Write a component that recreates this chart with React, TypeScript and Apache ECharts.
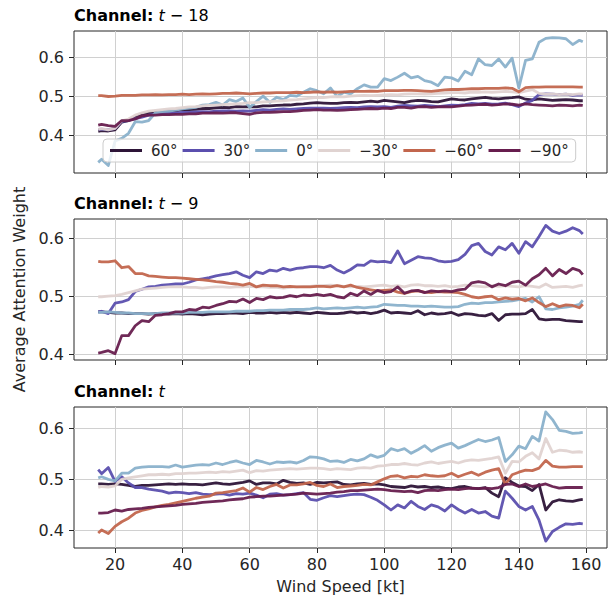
import React, { useEffect, useRef } from "react";
import * as echarts from "echarts";

// Wind speed samples [kt]
const WIND = [
  15, 16, 18, 20, 22, 24, 26, 28, 30, 32,
  34, 36, 38, 40, 42, 44, 46, 48, 50, 52,
  54, 56, 58, 60, 62, 64, 66, 68, 70, 72,
  74, 76, 78, 80, 82, 84, 86, 88, 90, 92,
  94, 96, 98, 100, 102, 104, 106, 108, 110, 112,
  114, 116, 118, 120, 122, 124, 126, 128, 130, 132,
  134, 136, 138, 140, 142, 144, 146, 148, 150, 152,
  154, 156, 158, 159,
];

const ANGLES = ["60°", "30°", "0°", "−30°", "−60°", "−90°"];
const COLORS = ["#2d1437", "#5b4fae", "#8ab1cb", "#e0d3d1", "#c2664d", "#671d4e"];

const CHANNELS = ["t−18", "t−9", "t"];
const X_TICKS = [20, 40, 60, 80, 100, 120, 140, 160];
const Y_TICKS = [0.4, 0.5, 0.6];

// ---- Channel t−18 ----
const t18_60 = [
  .410, .412, .411, .414, .434, .438, .446, .455, .457, .459,
  .461, .463, .463, .466, .466, .467, .469, .469, .471, .472,
  .471, .474, .473, .474, .473, .476, .476, .477, .478, .478,
  .480, .481, .483, .484, .483, .482, .482, .484, .485, .484,
  .486, .488, .486, .490, .488, .486, .484, .488, .490, .489,
  .487, .486, .490, .494, .492, .491, .494, .496, .498, .495,
  .494, .496, .497, .499, .493, .491, .494, .492, .490, .491,
  .492, .491, .489, .489,
];
const t18_30 = [
  .415, .416, .414, .418, .436, .438, .443, .447, .452, .455,
  .456, .457, .457, .459, .459, .460, .461, .460, .462, .463,
  .463, .462, .463, .462, .464, .466, .465, .467, .468, .467,
  .468, .469, .470, .470, .470, .469, .470, .471, .472, .471,
  .473, .474, .473, .474, .472, .475, .477, .476, .475, .477,
  .476, .474, .476, .478, .477, .479, .482, .481, .482, .480,
  .481, .483, .479, .474, .483, .490, .505, .507, .506, .505,
  .506, .503, .504, .503,
];
const t18_0 = [
  .330, .338, .322, .385, .392, .405, .435, .434, .438, .458,
  .461, .462, .465, .468, .470, .472, .478, .479, .485, .478,
  .492, .487, .496, .472, .487, .501, .485, .498, .492, .503,
  .501, .511, .520, .515, .507, .522, .500, .511, .507, .520,
  .530, .524, .524, .546, .541, .550, .560, .548, .552, .541,
  .537, .528, .550, .548, .540, .565, .556, .597, .582, .580,
  .597, .576, .599, .522, .593, .597, .640, .650, .652, .651,
  .649, .634, .645, .641,
];
const t18_n30 = [
  .415, .417, .414, .418, .437, .442, .452, .458, .462, .464,
  .466, .468, .469, .471, .473, .474, .476, .477, .478, .479,
  .480, .481, .482, .484, .484, .486, .487, .488, .489, .491,
  .492, .494, .496, .498, .497, .499, .500, .499, .501, .502,
  .503, .502, .503, .504, .505, .504, .506, .507, .507, .506,
  .507, .508, .509, .510, .510, .509, .511, .511, .512, .511,
  .512, .513, .512, .510, .514, .518, .508, .506, .507, .505,
  .506, .505, .507, .506,
];
const t18_n60 = [
  .502, .502, .500, .501, .503, .503, .503, .504, .504, .505,
  .504, .505, .505, .506, .505, .506, .507, .506, .507, .508,
  .508, .509, .508, .507, .508, .509, .509, .510, .510, .510,
  .511, .510, .511, .512, .511, .512, .511, .512, .513, .513,
  .513, .514, .513, .515, .515, .515, .516, .516, .515, .514,
  .513, .515, .517, .518, .518, .519, .520, .520, .521, .521,
  .521, .522, .521, .512, .523, .524, .524, .525, .525, .525,
  .525, .525, .524, .524,
];
const t18_n90 = [
  .426, .428, .425, .423, .438, .438, .442, .450, .452, .452,
  .453, .453, .454, .454, .455, .455, .457, .457, .458, .457,
  .458, .458, .456, .454, .458, .459, .459, .460, .461, .461,
  .462, .464, .465, .466, .465, .465, .464, .465, .466, .467,
  .468, .469, .468, .470, .469, .472, .472, .470, .473, .474,
  .472, .473, .474, .473, .475, .477, .478, .479, .480, .478,
  .479, .481, .480, .478, .481, .479, .478, .477, .476, .478,
  .477, .476, .478, .477,
];

// ---- Channel t−9 ----
const t9_60 = [
  .473, .473, .472, .471, .471, .470, .470, .470, .469, .470,
  .470, .469, .470, .469, .470, .469, .468, .469, .470, .470,
  .471, .471, .470, .472, .471, .471, .472, .471, .472, .471,
  .472, .471, .470, .472, .471, .470, .470, .471, .473, .471,
  .472, .470, .472, .476, .471, .472, .471, .470, .475, .468,
  .471, .469, .470, .472, .467, .470, .469, .467, .466, .470,
  .458, .468, .469, .469, .470, .477, .461, .459, .460, .460,
  .458, .457, .456, .456,
];
const t9_30 = [
  .473, .474, .470, .488, .490, .494, .508, .512, .516, .517,
  .519, .520, .521, .521, .524, .528, .530, .532, .535, .537,
  .539, .542, .536, .532, .542, .539, .545, .543, .548, .545,
  .548, .549, .551, .551, .549, .553, .545, .540, .546, .554,
  .553, .561, .559, .560, .558, .578, .556, .562, .568, .566,
  .565, .561, .559, .560, .563, .572, .587, .591, .577, .571,
  .585, .580, .591, .574, .594, .585, .603, .622, .612, .608,
  .612, .618, .613, .607,
];
const t9_0 = [
  .472, .472, .473, .472, .471, .471, .470, .470, .470, .470,
  .471, .471, .471, .471, .472, .472, .472, .473, .473, .473,
  .473, .474, .474, .474, .475, .475, .476, .476, .476, .477,
  .477, .477, .478, .480, .478, .479, .480, .479, .480, .481,
  .480, .481, .482, .486, .485, .484, .484, .483, .483, .482,
  .483, .482, .481, .481, .482, .486, .488, .487, .489, .489,
  .490, .491, .492, .494, .496, .490, .499, .478, .477, .480,
  .481, .483, .486, .493,
];
const t9_n30 = [
  .499, .499, .500, .501, .503, .506, .509, .512, .513, .514,
  .515, .516, .516, .516, .515, .515, .514, .515, .516, .516,
  .515, .516, .516, .517, .516, .516, .515, .515, .514, .515,
  .516, .517, .517, .518, .518, .519, .518, .517, .516, .517,
  .516, .517, .518, .519, .517, .518, .516, .519, .520, .518,
  .518, .517, .518, .516, .517, .519, .518, .517, .516, .518,
  .517, .518, .517, .516, .518, .517, .515, .521, .515, .516,
  .517, .515, .518, .519,
];
const t9_n60 = [
  .560, .559, .559, .561, .549, .551, .539, .539, .535, .534,
  .533, .532, .532, .531, .530, .529, .528, .527, .525, .524,
  .522, .521, .519, .522, .516, .519, .518, .518, .516, .517,
  .516, .516, .516, .517, .517, .516, .518, .516, .519, .515,
  .513, .511, .509, .510, .511, .507, .505, .508, .509, .507,
  .506, .508, .507, .507, .506, .503, .499, .497, .499, .500,
  .494, .497, .495, .496, .492, .497, .489, .482, .487, .482,
  .485, .484, .480, .486,
];
const t9_n90 = [
  .402, .403, .406, .401, .432, .432, .449, .458, .456, .467,
  .468, .470, .473, .473, .477, .476, .481, .480, .484, .487,
  .491, .490, .495, .489, .496, .494, .499, .497, .498, .501,
  .499, .502, .501, .503, .501, .503, .499, .497, .505, .501,
  .509, .503, .510, .506, .508, .516, .505, .509, .510, .506,
  .509, .508, .509, .508, .511, .512, .523, .525, .523, .516,
  .521, .518, .524, .526, .519, .530, .537, .548, .535, .546,
  .539, .548, .544, .537,
];

// ---- Channel t ----
const t0_60 = [
  .491, .491, .490, .491, .490, .488, .486, .488, .488, .489,
  .490, .491, .490, .491, .490, .490, .489, .491, .493, .491,
  .490, .492, .494, .497, .490, .493, .493, .491, .498, .494,
  .492, .493, .490, .494, .493, .494, .495, .490, .489, .491,
  .492, .490, .491, .489, .486, .485, .484, .487, .485, .486,
  .484, .485, .483, .482, .485, .486, .483, .482, .484, .473,
  .466, .503, .494, .487, .486, .478, .490, .440, .456, .460,
  .458, .457, .460, .461,
];
const t0_30 = [
  .519, .511, .523, .496, .505, .493, .484, .484, .481, .479,
  .477, .473, .475, .474, .472, .474, .471, .470, .471, .472,
  .469, .472, .471, .473, .469, .464, .471, .472, .469, .470,
  .472, .474, .461, .459, .464, .468, .466, .468, .470, .471,
  .470, .465, .459, .450, .440, .450, .444, .457, .447, .441,
  .450, .446, .438, .450, .441, .434, .441, .434, .437, .428,
  .424, .477, .463, .447, .440, .447, .420, .379, .398, .406,
  .413, .412, .414, .413,
];
const t0_0 = [
  .503, .505, .500, .497, .512, .512, .522, .524, .525, .525,
  .525, .524, .528, .524, .526, .528, .529, .528, .532, .529,
  .533, .536, .532, .529, .537, .534, .530, .534, .533, .534,
  .532, .537, .544, .543, .540, .535, .536, .533, .539, .536,
  .540, .548, .543, .547, .560, .556, .560, .551, .558, .566,
  .555, .562, .567, .571, .561, .566, .572, .578, .574, .577,
  .582, .535, .548, .565, .560, .584, .575, .632, .617, .596,
  .594, .590, .591, .592,
];
const t0_n30 = [
  .484, .486, .485, .487, .500, .503, .505, .507, .509, .509,
  .510, .509, .511, .511, .512, .512, .513, .514, .513, .515,
  .514, .516, .518, .513, .517, .516, .518, .519, .520, .521,
  .520, .521, .522, .522, .521, .519, .521, .520, .519, .522,
  .523, .522, .526, .527, .529, .529, .531, .529, .528, .532,
  .534, .531, .533, .535, .532, .536, .538, .537, .539, .541,
  .544, .512, .535, .534, .545, .552, .540, .580, .553, .557,
  .556, .553, .554, .553,
];
const t0_n60 = [
  .395, .401, .394, .408, .417, .424, .434, .439, .442, .446,
  .449, .451, .454, .457, .460, .463, .465, .467, .473, .474,
  .476, .478, .483, .475, .484, .480, .486, .490, .483, .489,
  .489, .491, .494, .488, .486, .491, .484, .486, .487, .488,
  .490, .489, .495, .501, .506, .507, .503, .506, .505, .509,
  .507, .506, .507, .512, .505, .510, .514, .508, .514, .518,
  .521, .490, .509, .514, .518, .517, .522, .537, .526, .524,
  .524, .525, .525, .525,
];
const t0_n90 = [
  .434, .434, .435, .440, .438, .441, .442, .443, .445, .446,
  .447, .448, .449, .451, .452, .453, .455, .456, .457, .458,
  .460, .461, .462, .465, .466, .467, .467, .468, .469, .470,
  .471, .473, .472, .471, .472, .473, .475, .476, .478, .478,
  .479, .480, .481, .480, .478, .477, .476, .477, .474, .478,
  .479, .478, .480, .481, .480, .482, .483, .482, .483, .482,
  .484, .490, .491, .486, .491, .486, .488, .491, .486, .483,
  .484, .484, .484, .484,
];

const PANELS = [
  [t18_60, t18_30, t18_0, t18_n30, t18_n60, t18_n90],
  [t9_60, t9_30, t9_0, t9_n30, t9_n60, t9_n90],
  [t0_60, t0_30, t0_0, t0_n30, t0_n60, t0_n90],
];

// Value window of each panel (x shared)
const X_RANGE = [7.8, 166.2];
const Y_RANGES = [
  [0.3026, 0.669],
  [0.390, 0.633],
  [0.3656, 0.6416],
];

const FONT = "DejaVu Sans";
const INK = "#262626";

export default function App() {
  const ref = useRef<HTMLDivElement>(null);

  useEffect(() => {
    if (!ref.current) return;
    const chart = echarts.init(ref.current, null, { renderer: "svg" });

    const gridTops = [31, 219, 407];
    const gridHeights = [142, 141, 141];

    const grid = gridTops.map((top, i) => ({
      left: 74,
      top,
      width: 533,
      height: gridHeights[i],
      show: true,
      borderColor: INK,
      borderWidth: 1,
      backgroundColor: "transparent",
      containLabel: false,
    }));

    const xAxis = PANELS.map((_, i) => ({
      type: "value",
      gridIndex: i,
      min: X_RANGE[0],
      max: X_RANGE[1],
      splitNumber: 8,
      minInterval: 20,
      maxInterval: 20,
      axisLine: { show: false },
      axisTick: {
        show: true,
        length: 5,
        lineStyle: { color: INK, width: 1 },
        customValues: X_TICKS,
      },
      axisLabel: {
        show: i === 2,
        customValues: X_TICKS,
        fontSize: 16,
        fontFamily: FONT,
        color: INK,
        margin: 8,
      },
      splitLine: { show: true, lineStyle: { color: "#d0d0d0", width: 1 } },
      name: i === 2 ? "Wind Speed [kt]" : "",
      nameLocation: "middle",
      nameGap: 30,
      nameTextStyle: { fontSize: 16, fontFamily: FONT, color: INK },
    }));

    const yAxis = PANELS.map((_, i) => ({
      type: "value",
      gridIndex: i,
      min: Y_RANGES[i][0],
      max: Y_RANGES[i][1],
      splitNumber: 3,
      minInterval: 0.1,
      maxInterval: 0.1,
      axisLine: { show: false },
      axisTick: {
        show: true,
        length: 5,
        lineStyle: { color: INK, width: 1 },
        customValues: Y_TICKS,
      },
      axisLabel: {
        customValues: Y_TICKS,
        formatter: (v: number) => v.toFixed(1),
        fontSize: 16,
        fontFamily: FONT,
        color: INK,
        margin: 10,
      },
      splitLine: { show: true, lineStyle: { color: "#d0d0d0", width: 1 } },
      name: i === 1 ? "Average Attention Weight" : "",
      nameLocation: "middle",
      nameGap: 45,
      nameTextStyle: { fontSize: 16, fontFamily: FONT, color: INK },
    }));

    const title = CHANNELS.map((ch, i) => {
      const italic = ch.charAt(0);
      const rest = ch.length > 1 ? ch.slice(1).replace("−", " − ") : "";
      return {
        left: 74,
        top: gridTops[i] - 25,
        text: `{b|Channel:} {i|${italic}}{m|${rest}}`,
        padding: 0,
        textStyle: {
          fontWeight: "normal",
          rich: {
            b: { fontFamily: FONT, fontWeight: "bold", fontSize: 16, color: "#000" },
            i: { fontFamily: FONT, fontStyle: "italic", fontWeight: "normal", fontSize: 16, color: "#000" },
            m: { fontFamily: FONT, fontWeight: "normal", fontSize: 16, color: "#000" },
          },
        },
      };
    });

    const series: any[] = [];
    PANELS.forEach((panel, p) => {
      panel.forEach((vals, a) => {
        series.push({
          type: "line",
          name: ANGLES[a],
          xAxisIndex: p,
          yAxisIndex: p,
          data: WIND.map((w, k) => [w, vals[k]]),
          showSymbol: false,
          symbol: "none",
          clip: true,
          silent: true,
          lineStyle: { width: 2.8, color: COLORS[a], opacity: 0.95, join: "round" },
          itemStyle: { color: COLORS[a] },
        });
      });
    });

    chart.setOption({
      animation: false,
      backgroundColor: "#ffffff",
      title,
      grid,
      xAxis,
      yAxis,
      legend: {
        data: ANGLES,
        left: 103,
        top: 139,
        orient: "horizontal",
        icon: "rect",
        itemWidth: 32,
        itemHeight: 3,
        itemGap: 5,
        padding: [4, 7],
        backgroundColor: "rgba(255,255,255,0.8)",
        borderColor: "#cccccc",
        borderWidth: 1,
        borderRadius: 4,
        selectedMode: false,
        formatter: (name: string) => `{t|${name}}`,
        textStyle: {
          fontFamily: FONT,
          fontSize: 15,
          color: INK,
          rich: { t: { fontFamily: FONT, fontSize: 15, color: INK, padding: [0, 0, 0, 4] } },
        },
      },
      series,
    });

    return () => chart.dispose();
  }, []);

  return (
    <div
      ref={ref}
      style={{ position: "fixed", left: 0, top: 0, width: 611, height: 602, background: "#fff" }}
    />
  );
}
